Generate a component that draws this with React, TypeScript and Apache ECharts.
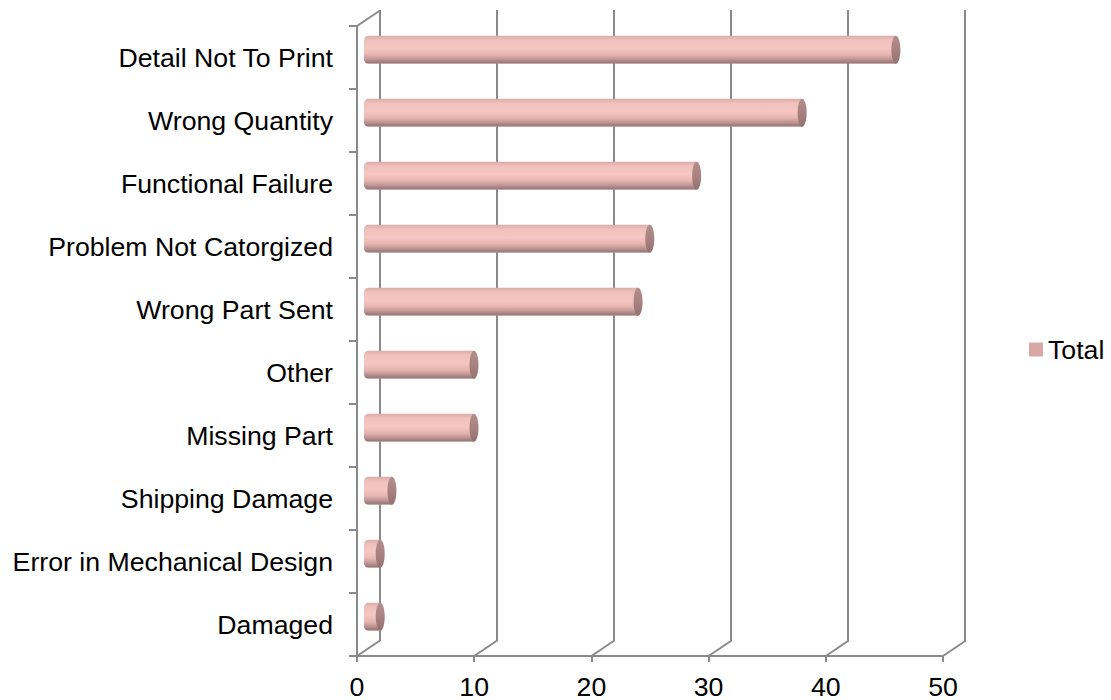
import React, { useEffect, useRef } from "react";
import * as echarts from "echarts";

const categories = [
  "Detail Not To Print",
  "Wrong Quantity",
  "Functional Failure",
  "Problem Not Catorgized",
  "Wrong Part Sent",
  "Other",
  "Missing Part",
  "Shipping Damage",
  "Error in Mechanical Design",
  "Damaged",
];
const totals = [45, 37, 28, 24, 23, 9, 9, 2, 1, 1];
const xTicks = [0, 10, 20, 30, 40, 50];

const GRAY = "#8a8a8a";
const DX = 23;
const DY = -15.5;
const FONT = "Liberation Sans";
const FS = 26.7;

export default function App() {
  const ref = useRef<HTMLDivElement>(null);
  useEffect(() => {
    if (!ref.current) return;
    const chart = echarts.init(ref.current, null, { renderer: "svg" });
    const bodyGrad = new echarts.graphic.LinearGradient(0, 0, 0, 1, [
      { offset: 0, color: "#d8aca9" },
      { offset: 0.15, color: "#efc0bc" },
      { offset: 0.45, color: "#f5c6c2" },
      { offset: 0.68, color: "#e6b5b1" },
      { offset: 0.86, color: "#b99290" },
      { offset: 0.95, color: "#9c7a78" },
      { offset: 1, color: "#b09391" },
    ]);
    const option: any = {
      animation: false,
      backgroundColor: "#ffffff",
      textStyle: { fontFamily: FONT },
      legend: {
        show: true,
        left: 1029,
        top: 336,
        padding: 0,
        icon: "rect",
        itemWidth: 14,
        itemHeight: 14,
        itemGap: 6,
        textStyle: { fontSize: FS, color: "#000", fontFamily: FONT },
        data: ["Total"],
      },
      grid: [
        { left: 357, right: 168, top: 26, bottom: 44, containLabel: false },
        { left: 380, right: 146, top: 10, bottom: 59, containLabel: false },
      ],
      xAxis: [
        {
          gridIndex: 0,
          type: "value",
          min: 0,
          max: 50,
          interval: 10,
          axisLine: { show: true, lineStyle: { color: GRAY, width: 2 } },
          axisTick: { show: true, length: 6, lineStyle: { color: GRAY, width: 2 } },
          splitLine: { show: false },
          axisLabel: {
            show: true,
            margin: 17,
            fontSize: FS,
            color: "#000",
            fontFamily: FONT,
            customValues: xTicks,
          },
        },
        {
          gridIndex: 1,
          type: "value",
          min: 0,
          max: 50,
          interval: 10,
          axisLine: { show: false },
          axisTick: { show: false },
          axisLabel: { show: false },
          splitLine: { show: true, lineStyle: { color: GRAY, width: 2 } },
        },
      ],
      yAxis: [
        {
          gridIndex: 0,
          type: "category",
          inverse: true,
          data: categories,
          axisLine: { show: true, lineStyle: { color: GRAY, width: 2 } },
          axisTick: { show: true, length: 8, lineStyle: { color: GRAY, width: 2 } },
          axisLabel: {
            show: true,
            margin: 24,
            fontSize: FS,
            color: "#000",
            fontFamily: FONT,
          },
          splitLine: { show: false },
        },
        {
          gridIndex: 1,
          type: "category",
          inverse: true,
          data: categories,
          show: false,
        },
      ],
      series: [
        {
          type: "custom",
          name: "depth",
          xAxisIndex: 0,
          yAxisIndex: 0,
          silent: true,
          z: 1,
          data: xTicks.map((v) => [v, 0]),
          renderItem: (params: any, api: any) => {
            const cs = params.coordSys;
            const v = api.value(0);
            const p = api.coord([v, 0]);
            const bottom = cs.y + cs.height;
            const children: any[] = [
              {
                type: "line",
                shape: { x1: p[0], y1: bottom, x2: p[0] + DX, y2: bottom + DY },
                style: { stroke: GRAY, lineWidth: 2 },
              },
            ];
            if (v === 0) {
              children.push({
                type: "line",
                shape: { x1: p[0], y1: cs.y, x2: p[0] + DX, y2: cs.y + DY },
                style: { stroke: GRAY, lineWidth: 2 },
              });
            }
            return { type: "group", children };
          },
        },
        {
          type: "custom",
          name: "Total",
          xAxisIndex: 0,
          yAxisIndex: 0,
          z: 3,
          itemStyle: { color: "#d8a8a6" },
          data: totals.map((v, i) => [v, i]),
          renderItem: (params: any, api: any) => {
            const val = api.value(0);
            const idx = api.value(1);
            const p0 = api.coord([0, idx]);
            const p1 = api.coord([val, idx]);
            const dx = DX / 2;
            const dy = DY / 2;
            const h = 28;
            const rx = 4.5;
            const x0 = p0[0] + dx - rx;
            const x1 = p1[0] + dx;
            const cy = p0[1] + dy;
            return {
              type: "group",
              children: [
                {
                  type: "rect",
                  shape: { x: x0, y: cy - h / 2, width: Math.max(x1 - x0, 1), height: h, r: [rx, 0, 0, rx] },
                  style: { fill: bodyGrad },
                },
                {
                  type: "ellipse",
                  shape: { cx: x1, cy: cy, rx: rx, ry: h / 2 },
                  style: {
                    fill: new echarts.graphic.LinearGradient(0, 0, 0, 1, [
                      { offset: 0, color: "#b38f8c" },
                      { offset: 0.5, color: "#a78280" },
                      { offset: 1, color: "#94706e" },
                    ]),
                  },
                },
              ],
            };
          },
        },
      ],
    };
    chart.setOption(option);
    return () => chart.dispose();
  }, []);
  return <div ref={ref} style={{ width: 1111, height: 700, position: "absolute", left: 0, top: 0 }} />;
}
